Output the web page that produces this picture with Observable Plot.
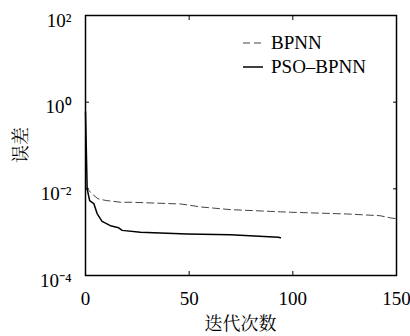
<!DOCTYPE html>
<html>
<head>
<meta charset="utf-8">
<script src="https://cdn.jsdelivr.net/npm/d3@7"></script>
<script src="https://cdn.jsdelivr.net/npm/@observablehq/plot@0.6"></script>
<style>
  html, body { margin: 0; padding: 0; background: #fff; }
  #wrap { position: relative; width: 410px; height: 336px; }
  #wrap svg text { font-family: 'Liberation Serif', serif; }
  #wrap svg text.cjk { font-family: 'Noto Serif CJK SC', 'Noto Sans CJK SC', serif; }
  #legend { position: absolute; left: 243px; top: 31px; font-family: 'Liberation Serif', serif; font-size: 19px; line-height: 24px; color: #000; }
  #legend div { display: flex; align-items: center; height: 24px; }
  #legend svg { margin-right: 8px; }
</style>
</head>
<body>
<div id="wrap"></div>
<script>
const seriesNames = ["BPNN", "PSO–BPNN"];
const bpIter = [0, 1, 3, 6, 10, 17, 22, 46, 56, 70, 94, 99, 126, 142, 147, 150];
const bpErr = [0.0107, 0.010, 0.00776, 0.00589, 0.00537, 0.0049, 0.0049, 0.00447, 0.0038, 0.00331, 0.00295, 0.00288, 0.00263, 0.0024, 0.00214, 0.00204];
const psoIter = [0, 0.8, 2, 4, 5.6, 8, 12, 16, 17.7, 26.5, 49, 70, 93, 94];
const psoErr = [0.6, 0.01, 0.00537, 0.00457, 0.00269, 0.00178, 0.00141, 0.00126, 0.0011, 0.001, 0.00091, 0.00087, 0.00076, 0.00074];
const xTicks = [0, 50, 100, 150];
const yTicks = [1e-4, 1e-2, 1e0, 1e2];
const yTickLabels = ["10⁻⁴", "10⁻²", "10⁰", "10²"];
const xInnerTicks = [50, 100];
const yInnerTicks = [1e-2, 1e0];
const xLabel = "迭代次数";
const yLabel = "误差";

const bp = bpIter.map((x, i) => ({x, y: bpErr[i]}));
const pso = psoIter.map((x, i) => ({x, y: psoErr[i]}));

const chart = Plot.plot({
  width: 410,
  height: 336,
  marginLeft: 85,
  marginRight: 14,
  marginTop: 15,
  marginBottom: 61,
  style: {fontSize: "19px", color: "#000", background: "#fff"},
  x: {domain: [0, 150], label: null},
  y: {type: "log", domain: [1e-4, 1e2], label: null},
  marks: [
    Plot.axisX({anchor: "bottom", ticks: xTicks, tickSize: 0, tickPadding: 16, tickFormat: d => String(d), fontSize: 19}),
    Plot.axisX({anchor: "bottom", ticks: xInnerTicks, tickSize: -4, tickFormat: () => ""}),
    Plot.axisX({anchor: "top", ticks: xInnerTicks, tickSize: -4, tickFormat: () => ""}),
    Plot.axisY({anchor: "left", ticks: yTicks, tickSize: 0, tickPadding: 14, dy: 5, tickFormat: d => yTickLabels[yTicks.indexOf(d)] ?? "", fontSize: 19}),
    Plot.axisY({anchor: "left", ticks: yInnerTicks, tickSize: -4, tickFormat: () => ""}),
    Plot.axisY({anchor: "right", ticks: yInnerTicks, tickSize: -4, tickFormat: () => ""}),
    Plot.line(bp, {x: "x", y: "y", stroke: "#444", strokeWidth: 1, strokeDasharray: "7,4"}),
    Plot.line(pso, {x: "x", y: "y", stroke: "#000", strokeWidth: 1.5}),
    Plot.frame({stroke: "#000", strokeWidth: 1.5})
  ]
});
const wrap = document.getElementById("wrap");
wrap.appendChild(chart);

const svg = d3.select(chart);
svg.append("text")
  .attr("class", "cjk")
  .attr("x", (85 + 396) / 2).attr("y", 330)
  .attr("text-anchor", "middle")
  .style("font-size", "18px").attr("fill", "#000")
  .text(xLabel);
svg.append("text")
  .attr("class", "cjk")
  .attr("transform", "translate(27,145) rotate(-90)")
  .attr("text-anchor", "middle")
  .style("font-size", "18px").attr("fill", "#000")
  .text(yLabel);

const legend = document.createElement("div");
legend.id = "legend";
legend.innerHTML = `
<div><svg width="20" height="4"><line x1="0" y1="2" x2="20" y2="2" stroke="#444" stroke-width="1" stroke-dasharray="7,4"/></svg>${seriesNames[0]}</div>
<div><svg width="20" height="4"><line x1="0" y1="2" x2="20" y2="2" stroke="#000" stroke-width="1.5"/></svg>${seriesNames[1]}</div>`;
wrap.appendChild(legend);
</script>
</body>
</html>
